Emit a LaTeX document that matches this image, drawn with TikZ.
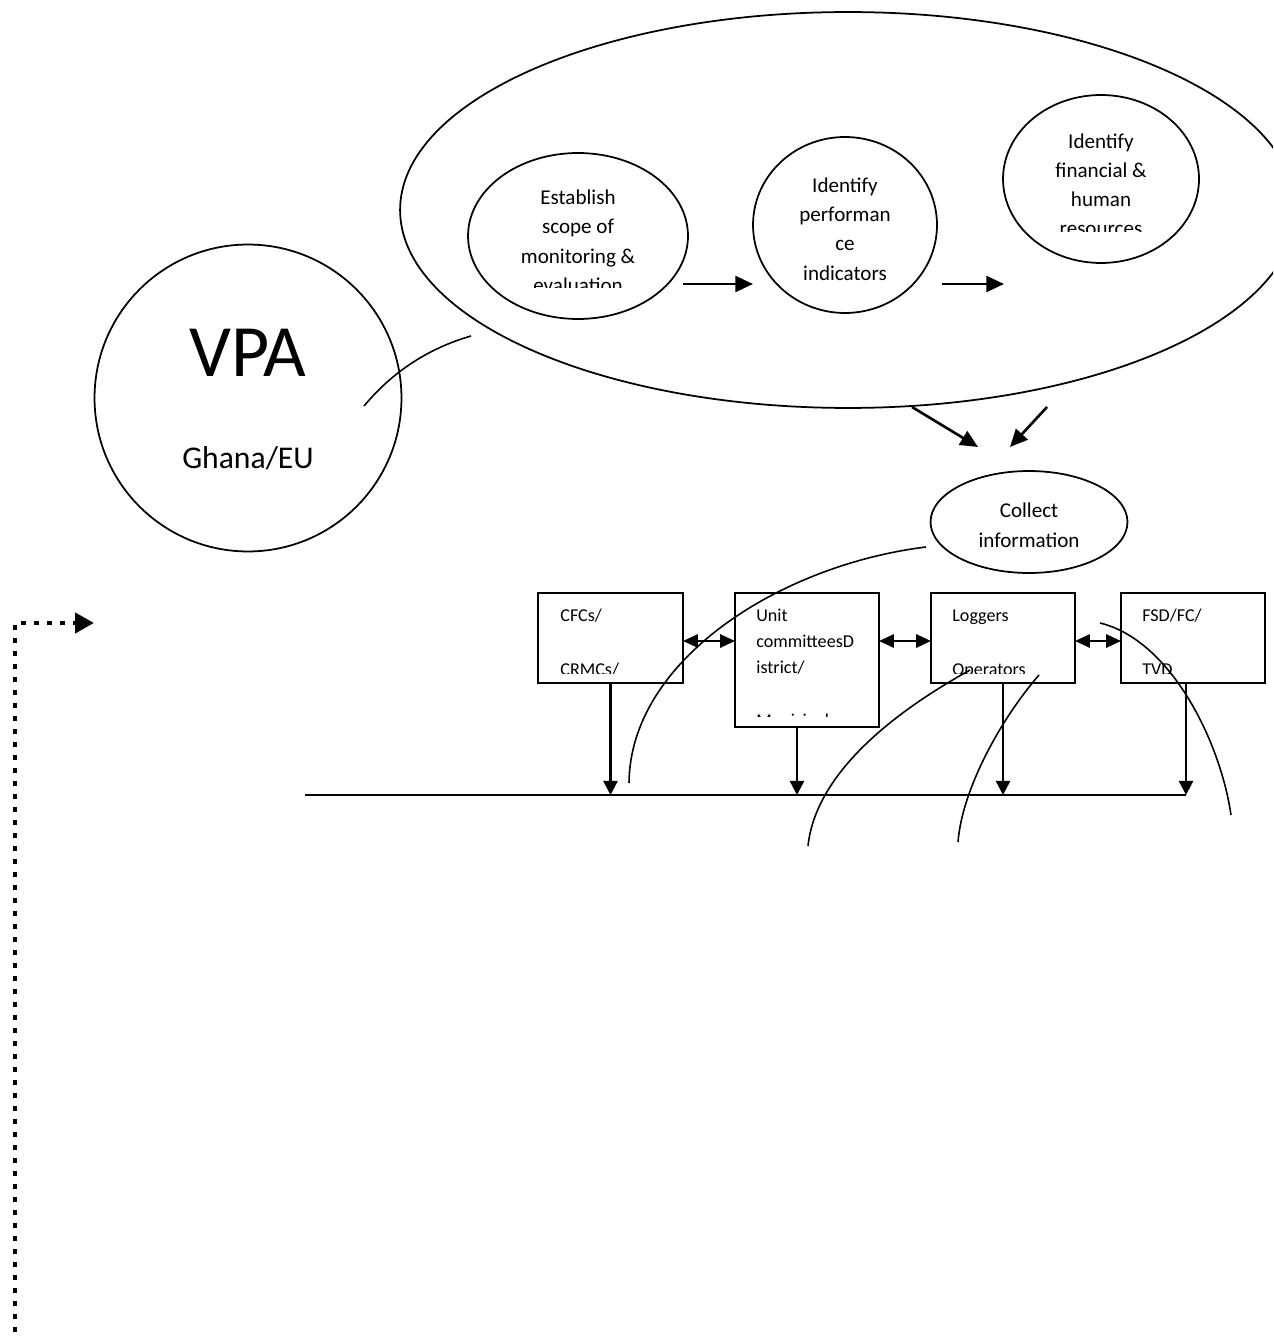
\documentclass[tikz,border=0pt]{standalone}
\usepackage{fontspec}
\setmainfont{Carlito}
\usetikzlibrary{arrows.meta,shapes.geometric}
\begin{document}
\begin{tikzpicture}[x=0.02cm,y=-0.02cm,
  ell/.style={draw,ellipse,line width=1pt,inner sep=0pt,outer sep=0pt},
  boxn/.style={draw,rectangle,line width=1.2pt,inner sep=0pt,outer sep=0pt,minimum width=2.88cm,minimum height=1.8cm},
  lbl/.style={inner sep=0pt,anchor=base,font=\fontsize{12}{14}\selectfont},
  blbl/.style={inner sep=0pt,anchor=base west,font=\fontsize{10.3}{12}\selectfont},
  arr/.style={line width=1.5pt,-{Triangle[length=10pt,width=9pt]}},
  darr/.style={line width=1.4pt,{Triangle[length=8.5pt,width=7.5pt]}-{Triangle[length=8.5pt,width=7.5pt]}},
  varr/.style={line width=1.4pt,-{Triangle[length=8pt,width=8pt]}},
  thinline/.style={line width=0.9pt},
  dotline/.style={line width=2.8pt,dash pattern=on 2.8pt off 4.6pt,-{Triangle[length=10.8pt,width=11.3pt]}}
]
% page frame
\useasboundingbox (0,0) rectangle (1273,1337);
\fill[white] (0,0) rectangle (1273,1337);
\clip (0,0) rectangle (1273,1337);

% planning stage: outer ellipse with three steps
\node[ell,minimum width=17.92cm,minimum height=7.92cm] (plan) at (848,210) {};
\node[ell,minimum width=4.4cm,minimum height=3.32cm] (est) at (578,236) {};
\node[ell,minimum width=3.68cm,minimum height=3.52cm] (perf) at (845,225) {};
\node[ell,minimum width=3.92cm,minimum height=3.36cm] (fin) at (1101,179) {};

\begin{scope}
  \clip (460,140) rectangle (700,288);
  \node[lbl] (est1) at (578,205) {Establish};
  \node[lbl] (est2) at (578,234) {scope of};
  \node[lbl] (est3) at (578,264) {monitoring \&};
  \node[lbl] (est4) at (578,293) {evaluation};
\end{scope}

\node[lbl] (perf1) at (845,193) {Identify};
\node[lbl] (perf2) at (845,222) {performan};
\node[lbl] (perf3) at (845,251) {ce};
\node[lbl] (perf4) at (845,281) {indicators};

\begin{scope}
  \clip (1000,100) rectangle (1200,232);
  \node[lbl] (fin1) at (1101,149) {Identify};
  \node[lbl] (fin2) at (1101,178) {financial \&};
  \node[lbl] (fin3) at (1101,207) {human};
  \node[lbl] (fin4) at (1101,236) {resources};
\end{scope}

\coordinate (a1s) at (683,284);
\coordinate (a1e) at (753,284);
\coordinate (a2s) at (942,284);
\coordinate (a2e) at (1004,284);
\draw[arr] (a1s) -- (a1e);
\draw[arr] (a2s) -- (a2e);

% partnership circle
\node[ell,minimum width=6.14cm,minimum height=6.14cm] (vpa) at (248,398) {};
\node[inner sep=0pt,anchor=base,font=\fontsize{42}{46}\selectfont] (vpat) at (248,377) {VPA};
\node[inner sep=0pt,anchor=base,font=\fontsize{18}{20}\selectfont] (vpag) at (248,468) {Ghana/EU};
\coordinate (v1) at (364,406);
\coordinate (v2) at (471,336);
\draw[thinline] (v1) .. controls (392.6,371.8) and (428.2,348.4) .. (v2);

% data collection
\node[ell,minimum width=3.94cm,minimum height=2.04cm] (coll) at (1029,522) {};
\node[lbl] (coll1) at (1029,517) {Collect};
\node[lbl] (coll2) at (1029,547) {information};
\coordinate (k1s) at (912,407);
\coordinate (k1e) at (978,447);
\coordinate (k2s) at (1047,407);
\coordinate (k2e) at (1010,447);
\draw[arr] (k1s) -- (k1e);
\draw[arr] (k2s) -- (k2e);

% stakeholder boxes
\node[boxn,minimum width=2.9cm] (cfc) at (610.5,638) {};
\node[boxn,minimum height=2.68cm] (unit) at (807,660) {};
\node[boxn] (log) at (1003,638) {};
\node[boxn] (fsd) at (1193,638) {};

\begin{scope}
  \clip (540,595) rectangle (681,673);
  \node[blbl] (cfc1) at (560,621) {CFCs/};
  \node[blbl] (cfc2) at (560,675) {CRMCs/};
\end{scope}
\begin{scope}
  \clip (737,595) rectangle (877,716);
  \node[blbl] (unit1) at (756,621) {Unit};
  \node[blbl] (unit2) at (756,647) {committeesD};
  \node[blbl] (unit3) at (756,673) {istrict/};
  \node[blbl] (unit4) at (756,726) {Municipal};
\end{scope}
\begin{scope}
  \clip (933,595) rectangle (1073,673);
  \node[blbl] (log1) at (952,621) {Loggers};
  \node[blbl] (log2) at (952,675) {Operators};
\end{scope}
\begin{scope}
  \clip (1123,595) rectangle (1263,673);
  \node[blbl] (fsd1) at (1142,621) {FSD/FC/};
  \node[blbl] (fsd2) at (1142,675) {TVD};
\end{scope}

\coordinate (dy) at (0,641);
\draw[darr] (cfc.east |- dy) -- (unit.west |- dy);
\draw[darr] (unit.east |- dy) -- (log.west |- dy);
\draw[darr] (log.east |- dy) -- (fsd.west |- dy);

% common reporting line
\coordinate (hlL) at (305,795);
\coordinate (hlR) at (1186,795);
\draw[line width=1.2pt] (hlL) -- (hlR);
\coordinate (uS) at (797,727);
\coordinate (fS) at (1186,683);
\draw[varr] (cfc.south) -- (cfc.south |- hlL);
\draw[varr] (uS) -- (uS |- hlL);
\draw[varr] (log.south) -- (log.south |- hlL);
\draw[varr] (fS) -- (hlR);

% feedback curves
\coordinate (c1a) at (926,547);
\coordinate (c1b) at (629,783);
\draw[thinline] (c1a) .. controls (780,565) and (630,660) .. (c1b);
\coordinate (c2a) at (970,670);
\coordinate (c2b) at (808,846);
\draw[thinline] (c2a) .. controls (880,720) and (815,780) .. (c2b);
\coordinate (c3a) at (1039,675);
\coordinate (c3b) at (958,842);
\draw[thinline] (c3a) .. controls (1000,720) and (962,790) .. (c3b);
\coordinate (c4a) at (1100,623);
\coordinate (c4b) at (1231,815);
\draw[thinline] (c4a) .. controls (1170,640) and (1220,740) .. (c4b);

% dotted return path
\coordinate (dotS) at (15,1345);
\coordinate (dotE) at (94,623);
\draw[dotline] (dotS) |- (dotE);
\end{tikzpicture}
\end{document}
